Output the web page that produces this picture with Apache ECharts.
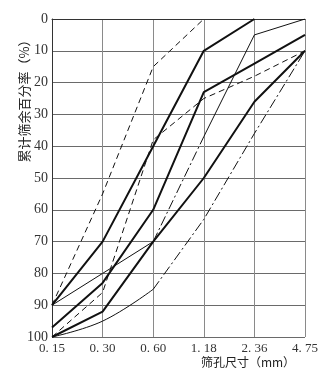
<!DOCTYPE html>
<html>
<head>
<meta charset="utf-8">
<script src="https://cdn.jsdelivr.net/npm/echarts@6/dist/echarts.min.js"></script>
<style>
  html, body { margin: 0; padding: 0; background: #fff; }
  #chart { width: 333px; height: 370px; }
</style>
</head>
<body>
<div id="chart"></div>
<script>
// Sieve sizes (mm) and cumulative retained percentages for the grading zones
const sieveSizes = ['0. 15', '0. 30', '0. 60', '1. 18', '2. 36', '4. 75'];
const yTicks = [0, 10, 20, 30, 40, 50, 60, 70, 80, 90, 100];

// null where the limit runs along the 0 % border and is not drawn as a line
const zone1Upper = [90, 80, 70, 37, 5, 0];
const zone1Lower = [100, 95, 85, 63, 36, 10];
const zone2Upper = [90, 70, 40, 10, 0, null];
const zone2Lower = [100, 92, 70, 50, 26, 10];
const zone3Upper = [90, 55, 15, 0, null, null];
const zone3Lower = [100, 86, 38, 25, 18, 10];
const sampleCurve = [97, 83, 60, 23, 14, 5];

const INK = '#111';
const FONT_NUM = 'Liberation Serif';
const FONT_CJK = 'Noto Sans CJK SC';

// keep only points whose index lies in [from, to]; others become gaps
function part(arr, from, to) {
  return arr.map((v, i) => (i >= from && i <= to ? v : null));
}

function line(data, width, type, smooth) {
  return {
    type: 'line',
    data: data,
    symbol: 'none',
    silent: true,
    smooth: smooth || false,
    connectNulls: false,
    lineStyle: { color: INK, width: width, type: type }
  };
}

const dashed = [6, 4];
const dashDot = [10, 3, 2, 3];

const series = [
  // zone III (dashed)
  line(zone3Upper, 1, dashed),
  line(zone3Lower, 1, dashed),
  // zone II (thick)
  line(zone2Upper, 2, 'solid'),
  line(zone2Lower, 2, 'solid'),
  // zone I (thin, partly dash-dot)
  line(part(zone1Upper, 0, 2), 1, 'solid'),
  line(part(zone1Upper, 2, 3), 1, dashDot),
  line(part(zone1Upper, 3, 5), 1, 'solid'),
  line(part(zone1Lower, 0, 2), 1, 'solid', 0.4),
  line(part(zone1Lower, 2, 5), 1, dashDot),
  // sample curve (thick)
  line(sampleCurve, 2, 'solid')
];

const chart = echarts.init(document.getElementById('chart'), null, { renderer: 'canvas' });

chart.setOption({
  animation: false,
  backgroundColor: '#fff',
  grid: { left: 52, right: 28, top: 19, bottom: 33 },
  xAxis: {
    type: 'category',
    data: sieveSizes,
    boundaryGap: false,
    axisLine: { lineStyle: { color: '#333', width: 1 } },
    axisTick: { show: false },
    axisLabel: { color: '#333', fontFamily: FONT_NUM, fontSize: 13, margin: 5 },
    splitLine: { show: true, lineStyle: { color: '#8a8a8a', width: 1 } }
  },
  yAxis: {
    type: 'value',
    inverse: true,
    min: yTicks[0],
    max: yTicks[yTicks.length - 1],
    interval: 10,
    axisLine: { show: true, lineStyle: { color: '#333', width: 1 } },
    axisTick: { show: false },
    axisLabel: { color: '#333', fontFamily: FONT_NUM, fontSize: 14, margin: 4 },
    splitLine: { show: true, lineStyle: { color: '#6a6a6a', width: 1 } }
  },
  graphic: [
    {
      // vertical axis title, reading bottom to top
      type: 'text',
      x: 24,
      y: 98,
      rotation: Math.PI / 2,
      style: {
        text: '累计筛余百分率（%）',
        fill: '#222',
        font: '13px "' + FONT_CJK + '"',
        textAlign: 'center',
        textVerticalAlign: 'middle'
      }
    },
    {
      type: 'text',
      x: 248,
      y: 362,
      style: {
        text: '筛孔尺寸（mm）',
        fill: '#222',
        font: '12px "' + FONT_CJK + '"',
        textAlign: 'center',
        textVerticalAlign: 'middle'
      }
    }
  ],
  series: series
});
</script>
</body>
</html>
